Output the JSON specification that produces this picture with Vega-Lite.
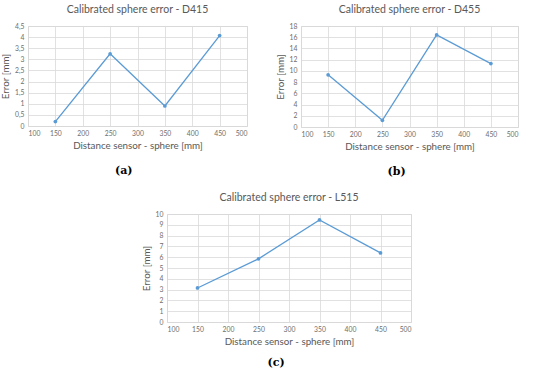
{
  "$schema": "https://vega.github.io/schema/vega-lite/v6.json",
  "background": "white",
  "padding": {"left": 0, "top": 4, "right": 4, "bottom": 2},
  "datasets": {
    "d415": [{"distance": 150, "error": 0.2}, {"distance": 250, "error": 3.25}, {"distance": 350, "error": 0.9}, {"distance": 450, "error": 4.07}],
    "d455": [{"distance": 150, "error": 9.3}, {"distance": 250, "error": 1.2}, {"distance": 350, "error": 16.4}, {"distance": 450, "error": 11.3}],
    "l515": [{"distance": 150, "error": 3.15}, {"distance": 250, "error": 5.85}, {"distance": 350, "error": 9.45}, {"distance": 450, "error": 6.4}],
    "empty": []
  },
  "config": {
    "font": "Lato",
    "view": {"stroke": "#d9d9d9"},
    "axis": {
      "grid": true, "gridColor": "#d9d9d9", "gridWidth": 0.8,
      "domain": false, "ticks": false,
      "labelFontSize": 6.8, "labelColor": "#6e6e6e", "labelFont": "Lato",
      "titleFontSize": 9.8, "titleColor": "#595959", "titleFontWeight": "normal", "titleFont": "Lato",
      "labelPadding": 4
    },
    "title": {"fontSize": 10.5, "fontWeight": "normal", "color": "#595959", "font": "Lato"}
  },
  "vconcat": [
    {
      "hconcat": [
        {
          "title": {"text": "(a)", "orient": "bottom", "anchor": "middle", "font": "DejaVu Serif", "fontSize": 11, "fontWeight": "bold", "color": "#000000", "offset": 14},
          "vconcat": [
            {
              "title": {"text": "Calibrated sphere error - D415", "offset": 8},
              "data": {"name": "d415"},
              "width": 219, "height": 100,
              "mark": {"type": "line", "color": "#5b9bd5", "strokeWidth": 1.3, "point": {"filled": true, "size": 14, "color": "#5b9bd5"}},
              "encoding": {
                "x": {"field": "distance", "type": "quantitative", "scale": {"domain": [100, 500], "nice": false}, "axis": {"values": [100, 150, 200, 250, 300, 350, 400, 450, 500], "title": "Distance sensor - sphere [mm]", "titlePadding": 4}},
                "y": {"field": "error", "type": "quantitative", "scale": {"domain": [0, 4.5], "nice": false}, "axis": {"values": [0, 0.5, 1, 1.5, 2, 2.5, 3, 3.5, 4, 4.5], "format": "~r", "labelExpr": "replace(datum.label, '.', ',')", "title": "Error [mm]", "titlePadding": 4}}
              }
            }
          ]
        },
        {
          "title": {"text": "(b)", "orient": "bottom", "anchor": "middle", "font": "DejaVu Serif", "fontSize": 11, "fontWeight": "bold", "color": "#000000", "offset": 14},
          "vconcat": [
            {
              "title": {"text": "Calibrated sphere error - D455", "offset": 8},
              "data": {"name": "d455"},
              "width": 217, "height": 101,
              "mark": {"type": "line", "color": "#5b9bd5", "strokeWidth": 1.3, "point": {"filled": true, "size": 14, "color": "#5b9bd5"}},
              "encoding": {
                "x": {"field": "distance", "type": "quantitative", "scale": {"domain": [100, 500], "nice": false}, "axis": {"values": [100, 150, 200, 250, 300, 350, 400, 450, 500], "title": "Distance sensor - sphere [mm]", "titlePadding": 4}},
                "y": {"field": "error", "type": "quantitative", "scale": {"domain": [0, 18], "nice": false}, "axis": {"values": [0, 2, 4, 6, 8, 10, 12, 14, 16, 18], "title": "Error [mm]", "titlePadding": 4}}
              }
            }
          ]
        }
      ],
      "spacing": 26
    },
    {
      "hconcat": [
        {
          "data": {"name": "empty"},
          "width": 112, "height": 10,
          "view": {"stroke": null},
          "mark": {"type": "point", "opacity": 0},
          "encoding": {}
        },
        {
          "title": {"text": "(c)", "orient": "bottom", "anchor": "middle", "font": "DejaVu Serif", "fontSize": 11, "fontWeight": "bold", "color": "#000000", "offset": 10},
          "vconcat": [
            {
              "title": {"text": "Calibrated sphere error - L515", "offset": 8},
              "data": {"name": "l515"},
              "width": 244, "height": 108,
              "mark": {"type": "line", "color": "#5b9bd5", "strokeWidth": 1.3, "point": {"filled": true, "size": 14, "color": "#5b9bd5"}},
              "encoding": {
                "x": {"field": "distance", "type": "quantitative", "scale": {"domain": [100, 500], "nice": false}, "axis": {"values": [100, 150, 200, 250, 300, 350, 400, 450, 500], "title": "Distance sensor - sphere [mm]", "titlePadding": 4}},
                "y": {"field": "error", "type": "quantitative", "scale": {"domain": [0, 10], "nice": false}, "axis": {"values": [0, 1, 2, 3, 4, 5, 6, 7, 8, 9, 10], "title": "Error [mm]", "titlePadding": 4}}
              }
            }
          ]
        }
      ],
      "spacing": 0
    }
  ],
  "spacing": 14
}
